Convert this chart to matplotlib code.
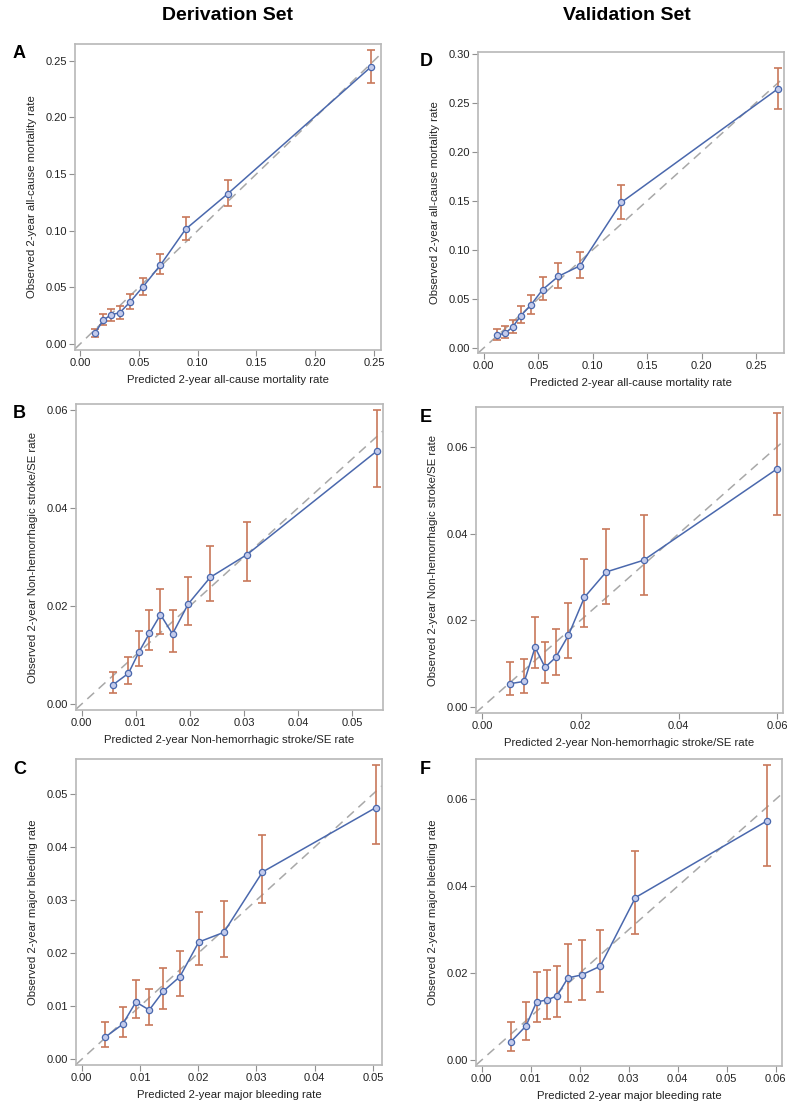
import matplotlib
matplotlib.use('Agg')
import matplotlib.pyplot as plt

plt.rcParams['font.family'] = ['Liberation Sans', 'DejaVu Sans']

# panel A - derivation, all-cause mortality
a_pred = [0.0125, 0.0199, 0.0267, 0.0338, 0.0428, 0.0536, 0.0684, 0.0897, 0.1257, 0.2477]
a_obs = [0.0094, 0.0212, 0.0259, 0.0276, 0.0374, 0.0506, 0.0697, 0.1012, 0.1326, 0.2447]
a_lo = [0.0065, 0.0165, 0.0206, 0.0224, 0.0312, 0.0435, 0.0615, 0.0915, 0.1215, 0.2306]
a_hi = [0.0129, 0.0265, 0.0312, 0.0335, 0.0441, 0.0585, 0.0791, 0.1121, 0.1444, 0.2594]

# panel B - derivation, stroke/SE
b_pred = [0.00574, 0.00864, 0.01062, 0.01253, 0.01457, 0.01679, 0.01969, 0.02377, 0.03056, 0.05451]
b_obs = [0.00388, 0.00626, 0.01068, 0.01442, 0.01823, 0.01429, 0.02041, 0.02585, 0.03048, 0.05156]
b_lo = [0.0022, 0.0041, 0.0078, 0.0110, 0.0143, 0.0107, 0.0161, 0.0210, 0.0250, 0.0443]
b_hi = [0.0066, 0.0095, 0.0149, 0.0192, 0.0235, 0.0191, 0.0260, 0.0322, 0.0372, 0.0600]

# panel C - derivation, major bleeding
c_pred = [0.0040, 0.00703, 0.00931, 0.0116, 0.0140, 0.01686, 0.02011, 0.0244, 0.03103, 0.05046]
c_obs = [0.00415, 0.00660, 0.01080, 0.0093, 0.01281, 0.01558, 0.02211, 0.02393, 0.03530, 0.04742]
c_lo = [0.0024, 0.0043, 0.0078, 0.0065, 0.0095, 0.0119, 0.0177, 0.0192, 0.0295, 0.0405]
c_hi = [0.0070, 0.0099, 0.0149, 0.0132, 0.0173, 0.0205, 0.0278, 0.0298, 0.0422, 0.0555]

# panel D - validation, all-cause mortality
d_pred = [0.0122, 0.0199, 0.0266, 0.0342, 0.0431, 0.0541, 0.0685, 0.0886, 0.1265, 0.2699]
d_obs = [0.0129, 0.0153, 0.0214, 0.0330, 0.0435, 0.0595, 0.0730, 0.0839, 0.1485, 0.2640]
d_lo = [0.0082, 0.0105, 0.0149, 0.0255, 0.0347, 0.0493, 0.0615, 0.0717, 0.1318, 0.2433]
d_hi = [0.0190, 0.0228, 0.0289, 0.0428, 0.0544, 0.0720, 0.0866, 0.0982, 0.1661, 0.2854]

# panel E - validation, stroke/SE
e_pred = [0.00564, 0.00856, 0.01074, 0.01277, 0.01495, 0.01753, 0.02079, 0.02521, 0.03282, 0.06000]
e_obs = [0.00538, 0.00592, 0.01377, 0.00915, 0.01146, 0.01654, 0.02531, 0.03115, 0.03385, 0.05492]
e_lo = [0.0028, 0.0032, 0.0091, 0.0055, 0.0073, 0.0114, 0.0185, 0.0238, 0.0259, 0.0444]
e_hi = [0.0103, 0.0111, 0.0207, 0.0151, 0.0179, 0.0241, 0.0342, 0.0410, 0.0442, 0.0678]

# panel F - validation, major bleeding
f_pred = [0.00598, 0.00904, 0.01121, 0.01332, 0.01536, 0.0176, 0.02039, 0.02419, 0.03139, 0.05830]
f_obs = [0.00423, 0.00784, 0.01337, 0.01383, 0.01475, 0.0189, 0.01959, 0.02159, 0.03741, 0.05509]
f_lo = [0.0020, 0.0045, 0.0088, 0.0094, 0.0098, 0.0133, 0.0139, 0.0156, 0.0290, 0.0447]
f_hi = [0.0088, 0.0134, 0.0203, 0.0207, 0.0217, 0.0268, 0.0276, 0.0300, 0.0481, 0.0679]

lab_mort = '2-year all-cause mortality rate'
lab_stroke = '2-year Non-hemorrhagic stroke/SE rate'
lab_bleed = '2-year major bleeding rate'

W, H = 793, 1103
fig = plt.figure(figsize=(W / 100, H / 100), dpi=100)

LINE = '#4a68ad'
ERR = '#c8785a'
FRAME = '#b8b8b8'

panels = [
    # letter, pred, obs, lo, hi, label, px rect (l, t, r, b), xlim, ylim, xticks, yticks
    ('A', a_pred, a_obs, a_lo, a_hi, lab_mort, (75, 44, 381, 350),
     (-0.0043, 0.256), (-0.0053, 0.2647), [0, .05, .1, .15, .2, .25], [0, .05, .1, .15, .2, .25]),
    ('B', b_pred, b_obs, b_lo, b_hi, lab_stroke, (76, 404, 383, 710),
     (-0.00105, 0.0557), (-0.00122, 0.0612), [0, .01, .02, .03, .04, .05], [0, .02, .04, .06]),
    ('C', c_pred, c_obs, c_lo, c_hi, lab_bleed, (76, 759, 382, 1065),
     (-0.00097, 0.05155), (-0.00107, 0.0566), [0, .01, .02, .03, .04, .05], [0, .01, .02, .03, .04, .05]),
    ('D', d_pred, d_obs, d_lo, d_hi, lab_mort, (478, 52, 784, 353),
     (-0.0052, 0.2757), (-0.0051, 0.3017), [0, .05, .1, .15, .2, .25], [0, .05, .1, .15, .2, .25, .3]),
    ('E', e_pred, e_obs, e_lo, e_hi, lab_stroke, (476, 407, 783, 713),
     (-0.00129, 0.06122), (-0.00138, 0.0692), [0, .02, .04, .06], [0, .02, .04, .06]),
    ('F', f_pred, f_obs, f_lo, f_hi, lab_bleed, (476, 759, 782, 1066),
     (-0.00116, 0.0613), (-0.00138, 0.0693), [0, .01, .02, .03, .04, .05, .06], [0, .02, .04, .06]),
]

for letter, xp, yo, lo, hi, lab, (l, t, r, b), xl, yl, xt, yt in panels:
    ax = fig.add_axes([l / W, 1 - b / H, (r - l) / W, (b - t) / H])
    ax.axline((0, 0), slope=1, color='#a8a8a8', lw=1.1, ls=(0, (6, 4)), zorder=1)
    yerr = [[o - v for o, v in zip(yo, lo)], [v - o for o, v in zip(yo, hi)]]
    ax.errorbar(xp, yo, yerr=yerr, fmt='none', ecolor=ERR, elinewidth=1.2,
                capsize=3, capthick=1.2, zorder=2)
    ax.plot(xp, yo, color=LINE, lw=1.1, marker='o', ms=4.5, mfc='#c3cbec',
            mec=LINE, mew=0.9, zorder=3)
    ax.set_xlim(*xl)
    ax.set_ylim(*yl)
    ax.set_xticks(xt)
    ax.set_yticks(yt)
    ax.set_xticklabels([f'{v:.2f}' for v in xt])
    ax.set_yticklabels([f'{v:.2f}' for v in yt])
    for s in ax.spines.values():
        s.set_color(FRAME)
        s.set_linewidth(1.2)
    ax.tick_params(direction='out', length=4, width=0.8, color='#909090',
                   labelsize=8, labelcolor='#222222', pad=2)
    ax.set_xlabel('Predicted ' + lab, fontsize=8.2, color='#222222', labelpad=5)
    ax.set_ylabel('Observed ' + lab, fontsize=8.2, color='#222222', labelpad=6)
    fig.text((13 if l < 400 else 420) / W, 1 - (t + 10) / H, letter,
             fontsize=13, fontweight='bold', ha='left', va='center')

fig.text(228 / W, 1 - 15 / H, 'Derivation Set', fontsize=14, fontweight='bold',
         ha='center', va='center')
fig.text(627 / W, 1 - 15 / H, 'Validation Set', fontsize=14, fontweight='bold',
         ha='center', va='center')

fig.savefig('out.png', dpi=100)
